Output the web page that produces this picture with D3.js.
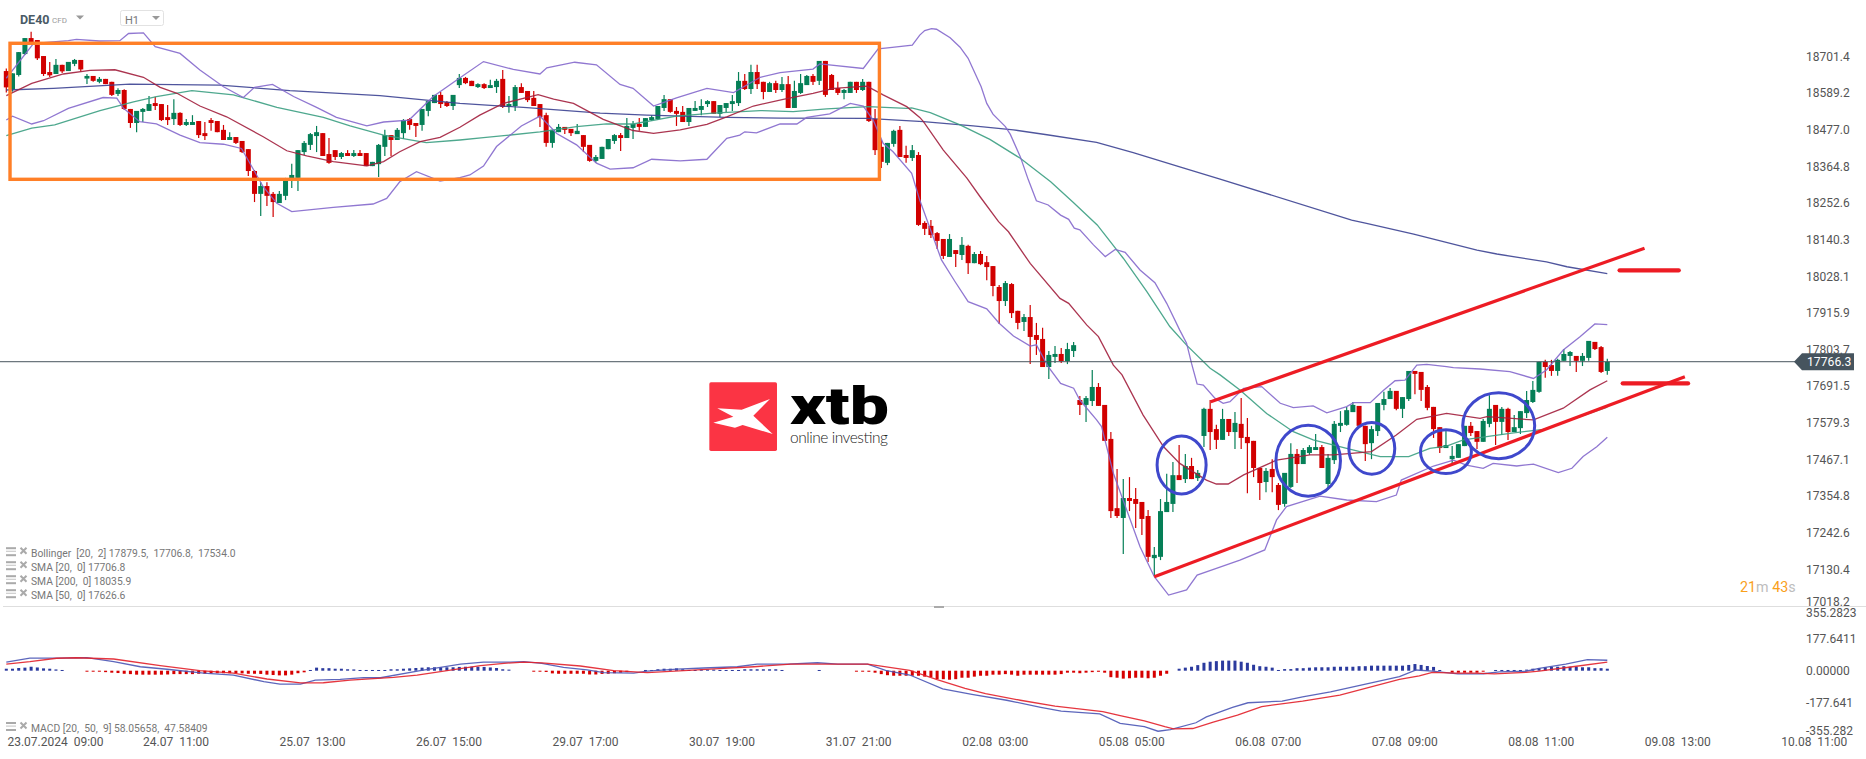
<!DOCTYPE html>
<html><head><meta charset="utf-8">
<style>html,body{margin:0;padding:0;background:#fff}svg{display:block}text{font-family:Roboto,sans-serif;white-space:pre}</style>
<script src="https://cdn.jsdelivr.net/npm/d3@7"></script></head><body><div id="chart"></div>
<script>
const open=[18656,18600,18644,18708,18757,18751,18702,18653,18647,18675,18656,18678,18690,18633,18641,18623,18632,18623,18586,18598,18540,18497,18531,18534,18558,18555,18515,18509,18528,18491,18491,18503,18466,18506,18503,18476,18445,18454,18442,18417,18350,18280,18304,18280,18252,18274,18323,18329,18408,18430,18457,18466,18402,18414,18393,18405,18396,18405,18405,18365,18371,18424,18460,18445,18466,18509,18497,18491,18534,18558,18583,18561,18549,18613,18635,18626,18607,18616,18604,18607,18632,18546,18549,18607,18595,18574,18555,18521,18436,18469,18485,18479,18463,18460,18430,18381,18387,18417,18442,18460,18451,18482,18494,18485,18506,18509,18543,18570,18534,18531,18500,18534,18537,18555,18564,18525,18543,18555,18558,18626,18601,18653,18623,18592,18619,18598,18616,18543,18589,18613,18641,18626,18687,18644,18604,18589,18589,18623,18598,18623,18509,18424,18375,18433,18476,18399,18390,18399,18191,18182,18160,18142,18087,18108,18093,18121,18068,18096,18071,18059,17995,17952,18004,17922,17888,17903,17848,17836,17750,17781,17790,17768,17799,17649,17634,17646,17689,17634,17530,17318,17288,17349,17346,17337,17294,17165,17169,17306,17331,17419,17407,17447,17410,17539,17622,17560,17527,17591,17551,17576,17536,17524,17441,17398,17438,17389,17331,17383,17484,17453,17487,17496,17505,17392,17465,17570,17573,17612,17631,17570,17517,17554,17634,17652,17677,17622,17652,17738,17735,17689,17628,17566,17502,17468,17472,17508,17570,17554,17521,17576,17634,17582,17622,17551,17563,17609,17643,17674,17766,17756,17738,17769,17784,17784,17769,17778,17827,17811,17738];
const close=[18606,18649,18714,18757,18744,18695,18647,18643,18675,18655,18684,18690,18661,18641,18626,18632,18616,18583,18598,18540,18497,18534,18540,18555,18549,18506,18506,18528,18491,18500,18500,18460,18457,18497,18469,18445,18454,18436,18408,18350,18280,18304,18274,18255,18280,18323,18338,18414,18436,18463,18469,18396,18375,18393,18405,18396,18405,18396,18365,18378,18430,18460,18445,18476,18506,18491,18488,18540,18564,18583,18555,18549,18583,18635,18619,18610,18616,18604,18613,18626,18546,18555,18607,18589,18567,18549,18515,18436,18476,18485,18476,18466,18473,18424,18381,18393,18424,18448,18460,18451,18488,18494,18485,18512,18515,18549,18570,18531,18525,18500,18543,18543,18549,18564,18525,18552,18558,18564,18626,18601,18653,18616,18592,18619,18598,18616,18543,18595,18619,18641,18623,18687,18583,18598,18589,18598,18623,18598,18623,18503,18414,18378,18436,18473,18393,18390,18414,18185,18173,18154,18136,18090,18142,18096,18124,18068,18096,18065,18056,17998,17952,18007,17915,17885,17903,17842,17833,17750,17787,17790,17768,17805,17817,17634,17655,17689,17631,17524,17309,17294,17349,17340,17331,17285,17169,17175,17309,17337,17419,17404,17447,17407,17426,17622,17551,17527,17591,17551,17579,17533,17517,17441,17395,17432,17413,17328,17426,17484,17453,17496,17505,17505,17441,17472,17576,17579,17618,17634,17570,17514,17560,17640,17652,17677,17622,17658,17738,17729,17680,17625,17560,17502,17511,17478,17514,17570,17548,17521,17585,17622,17582,17622,17551,17566,17615,17649,17680,17766,17750,17738,17772,17790,17796,17769,17784,17830,17805,17735,17766];
const high=[18664,18649,18714,18757,18776,18751,18702,18684,18693,18675,18684,18693,18690,18647,18641,18638,18632,18623,18603,18600,18540,18534,18543,18580,18577,18555,18552,18570,18530,18509,18521,18503,18500,18512,18503,18491,18469,18454,18442,18417,18353,18316,18316,18286,18289,18329,18372,18414,18442,18466,18488,18466,18451,18414,18408,18414,18414,18414,18405,18378,18433,18476,18460,18482,18509,18512,18497,18540,18564,18583,18592,18564,18583,18647,18638,18626,18619,18619,18629,18632,18659,18580,18613,18619,18595,18595,18555,18528,18476,18494,18485,18479,18494,18460,18430,18399,18424,18448,18463,18466,18512,18503,18512,18512,18521,18549,18583,18570,18546,18549,18543,18564,18570,18567,18564,18552,18558,18583,18653,18647,18675,18675,18623,18623,18626,18638,18641,18626,18647,18644,18647,18687,18687,18647,18623,18601,18623,18623,18632,18623,18540,18445,18436,18476,18488,18427,18430,18408,18196,18200,18163,18142,18157,18108,18148,18124,18102,18105,18090,18059,18001,18013,18007,17922,17912,17940,17885,17870,17799,17814,17808,17824,17827,17661,17661,17741,17701,17634,17551,17438,17407,17413,17380,17337,17312,17199,17346,17423,17459,17511,17484,17472,17435,17625,17649,17573,17622,17591,17612,17655,17594,17524,17441,17441,17468,17395,17426,17517,17499,17502,17511,17545,17511,17484,17585,17615,17628,17643,17631,17570,17570,17640,17674,17686,17677,17658,17738,17738,17735,17695,17628,17566,17557,17508,17514,17570,17582,17554,17591,17664,17634,17628,17625,17603,17615,17677,17707,17766,17772,17772,17775,17805,17799,17784,17793,17830,17827,17814,17775];
const low=[18590,18593,18639,18705,18744,18690,18641,18638,18647,18650,18656,18671,18655,18616,18623,18619,18616,18580,18580,18537,18482,18469,18500,18534,18537,18503,18491,18491,18488,18488,18491,18451,18445,18473,18469,18445,18445,18433,18405,18335,18255,18212,18243,18209,18252,18261,18298,18289,18399,18414,18408,18396,18372,18384,18387,18396,18393,18396,18365,18365,18332,18396,18396,18445,18448,18476,18454,18473,18518,18558,18543,18546,18537,18604,18616,18610,18604,18601,18604,18589,18543,18528,18534,18589,18561,18549,18485,18424,18421,18469,18463,18457,18463,18408,18378,18375,18387,18417,18433,18411,18451,18448,18473,18485,18503,18506,18534,18528,18488,18500,18488,18534,18521,18546,18525,18515,18531,18534,18549,18598,18586,18601,18570,18592,18589,18592,18543,18543,18586,18613,18613,18613,18577,18598,18583,18570,18589,18589,18595,18500,18399,18359,18368,18424,18393,18375,18381,18182,18154,18145,18111,18081,18087,18056,18078,18035,18068,18062,18016,17967,17882,17937,17900,17866,17860,17759,17787,17750,17713,17762,17762,17759,17781,17603,17582,17631,17631,17524,17288,17288,17178,17309,17257,17236,17153,17110,17159,17306,17306,17404,17395,17407,17401,17505,17496,17499,17527,17539,17499,17499,17364,17413,17343,17367,17367,17312,17322,17380,17395,17453,17481,17496,17441,17374,17453,17551,17570,17612,17570,17462,17468,17539,17618,17652,17618,17594,17646,17667,17646,17618,17533,17487,17502,17456,17472,17508,17539,17499,17521,17566,17511,17542,17527,17551,17545,17594,17640,17671,17717,17723,17723,17769,17753,17735,17753,17769,17802,17732,17726];

const bbUpperIdx=[0,4.4,6,10,11.3,15,18.3,19.7,22.1,24,28,31.2,35,38.2,40,42.9,46.3,50,53.2,58.1,60.8,64.9,68.8,73,76.9,81.7,86,87.1,91.6,95.1,98.9,101,104.3,108,112.9,117.2,121.5,124.7,130,131.1,138.1,140.5,142.4,146,147.2,148,149.1,149.9,152.1,153.7,155,157.1,158,159,161,161.8,163.4,164.7,166,167.9,169.9,171.2,172.1,173,175.2,177.1,178.7,180.3,182.7,185.1,187,189.1,190.2,191,191.9,192.9,194.8,196.1,197.2,199.4,202.3,205.3,207.4,210.6,212.8,216,217.1,219.8,221.9,223.8,225.4,227.3,228.9,232.1,233.2,237.5,242.3,246.1,248.2,250.9,253.6,256,258];
const bbUpper=[18634,18741,18743,18749,18753,18748,18749,18771,18773,18731,18710,18659,18608,18575,18606,18615,18578,18545,18514,18488,18500,18506,18578,18634,18685,18661,18647,18666,18683,18675,18615,18603,18549,18574,18603,18590,18637,18651,18662,18678,18664,18724,18728,18735,18766,18780,18786,18784,18758,18729,18695,18608,18557,18524,18486,18462,18394,18323,18259,18246,18215,18202,18175,18170,18124,18088,18110,18101,18047,18008,17945,17863,17823,17761,17698,17695,17654,17639,17644,17685,17690,17639,17626,17631,17610,17629,17641,17641,17678,17708,17710,17756,17758,17751,17748,17744,17736,17715,17741,17802,17843,17882,17880];
const bbLowerIdx=[0,1,4.1,6,10,15.6,17.8,18.9,21.5,24.2,28,31.2,35,37.9,41.4,43.6,46,52.7,59.1,61.3,63.4,66.1,69.9,73.1,74.7,76.9,79,83,86,88.7,91.9,95.1,97.3,101,104,108.6,112.9,116.1,118.2,119,120.9,124.7,127.4,129,132.7,136,138.1,139.7,141.3,142.9,145.9,147.2,150.7,152.9,155,158,160,162.3,165,166,167.9,169.9,172,173,175.7,176.5,178.4,182.7,185,187.3,190.2,191.9,195,198.8,202.8,204.7,206.3,211.7,216,220.8,224,224.8,230,233.2,235.3,238,239.6,243.4,246.1,250.1,252.3,254.1,256.3,258];
const bbLower=[18506,18518,18494,18504,18542,18575,18573,18542,18501,18494,18460,18437,18432,18419,18302,18251,18226,18239,18249,18266,18317,18348,18319,18330,18338,18365,18425,18488,18518,18465,18430,18374,18356,18360,18386,18381,18386,18450,18460,18470,18467,18494,18494,18514,18525,18557,18549,18506,18435,18409,18343,18261,18078,18011,17950,17928,17884,17845,17814,17818,17751,17700,17685,17649,17588,17568,17425,17200,17108,17052,17068,17113,17134,17159,17190,17282,17323,17355,17343,17338,17358,17404,17447,17465,17450,17440,17455,17447,17453,17427,17440,17476,17506,17535];
const sma20Idx=[0,4.1,9.2,13.5,17.5,22.1,24.8,27.5,31.2,35.5,41.4,45.2,48.4,52.7,58.1,60.8,63.4,66.7,69.9,73.1,76.3,80.1,85.7,88.2,91.4,96.2,101,104.3,108.6,112.9,116.1,120.4,125.2,130,133.3,138.7,141.3,145.1,147.2,147.8,151,154.8,156.9,159.9,161.5,165,169.8,171.2,174.1,176,178.4,179.8,183.2,186.5,189.1,193.4,195,196.9,199.4,204.7,210.1,213.9,220,224,227.3,232.1,237.5,238.6,246.1,250.9,255.2,258];
const sma20=[18581,18618,18647,18658,18660,18637,18606,18588,18549,18516,18455,18412,18396,18379,18366,18379,18409,18440,18453,18484,18521,18557,18584,18570,18557,18508,18474,18465,18476,18493,18516,18549,18569,18588,18603,18610,18583,18547,18514,18501,18414,18328,18272,18195,18164,18067,17960,17945,17879,17843,17756,17726,17603,17506,17455,17404,17392,17392,17420,17465,17481,17481,17491,17542,17590,17608,17593,17598,17588,17624,17680,17708];
const sma50Idx=[0,4.1,7.8,15.1,20.5,24.2,29.9,36.6,43.6,51.1,55.4,60.8,65.1,67.7,73.1,76.9,80.6,86,91.9,96.7,101,108,113.9,121.5,126.8,132.2,138.9,145.1,145.9,148.9,153.7,158.5,163.4,168.3,172,175.8,180,183.8,187.5,190.2,194,195.6,198.8,203.1,207.4,210.6,216,221.4,226,229.4,232.1,234.8,242.3,247.7,258];
const sma50=[18458,18481,18491,18535,18562,18578,18596,18583,18545,18514,18488,18460,18445,18437,18445,18452,18459,18470,18486,18494,18494,18518,18527,18535,18532,18540,18547,18542,18543,18529,18491,18447,18389,18317,18253,18185,18083,17981,17874,17817,17746,17726,17680,17608,17552,17527,17501,17476,17476,17501,17508,17527,17547,17559,17627];
const sma200Idx=[0,7.6,19.9,34.4,45.7,60.2,73.1,83.9,95.7,103.2,116.1,124.7,138.7,140.8,147.8,155.8,162.3,167.7,175.7,181.6,189.1,195.6,216.8,219.2,226.8,237,240.2,248.2,251.5,258];
const sma200=[18598,18603,18616,18613,18596,18581,18557,18544,18527,18521,18514,18512,18511,18509,18501,18488,18476,18461,18438,18406,18363,18325,18200,18190,18157,18108,18096,18072,18057,18036];

const macdHist=[11,11,15,17,22,18,13,11,7,4,0,0,0,-4,-4,-4,-8,-11,-13,-17,-19,-22,-22,-22,-22,-22,-21,-19,-19,-19,-19,-17,-17,-15,-14,-14,-14,-14,-15,-17,-17,-18,-22,-24,-26,-26,-22,-14,-9,4,17,14,14,11,11,8,7,4,4,4,4,4,8,8,11,13,15,17,19,19,19,19,19,21,22,22,22,21,18,15,8,6,0,0,0,-4,-4,-7,-15,-17,-17,-17,-17,-17,-21,-21,-18,-17,-14,-11,-8,0,0,4,4,8,11,11,13,8,4,4,6,6,6,4,4,4,4,8,8,8,8,8,8,4,0,0,0,0,0,4,0,0,0,0,0,-4,-4,-6,-11,-19,-25,-28,-28,-28,-28,-28,-33,-36,-47,-47,-50,-47,-39,-39,-33,-28,-28,-22,-22,-19,-22,-28,-22,-22,-22,-22,-22,-22,-19,-11,-11,-14,-11,-8,-6,-11,-36,-39,-44,-42,-39,-39,-42,-39,-28,-17,0,11,17,22,31,44,50,53,56,56,56,50,44,33,25,22,17,4,9,9,14,14,17,19,19,19,22,22,22,22,25,25,28,28,28,28,28,28,32,37,32,26,21,4,0,-11,-11,-11,-11,-11,-4,0,4,4,4,4,4,6,11,14,19,22,22,25,22,22,19,19,14,14,11];
const macdIdx=[0,3.8,8.1,13,17.3,21.6,25.9,31.8,36.6,41.5,44.1,47.4,49.8,53.8,57.6,60.3,66.7,73.2,76.9,81.2,83.4,86.3,89.8,93.6,96.3,101.1,103.3,108.1,112.4,117.8,121,125.9,130.7,134,138.8,141.7,145.6,150.9,155.6,161.2,166.7,170,176.2,179.5,183.4,185.6,187.6,191.7,193.4,197.6,200.1,205.6,208.9,213.4,224.5,227.2,229.8,233.9,238,240.6,244.9,247,251.3,254.8,258];
const macdLine=[47,70,70,72,50,22,8,-14,-24,-61,-74,-74,-52,-48,-39,-39,0,37,48,48,50,41,19,4,-11,-13,-2,9,15,22,37,37,44,37,37,2,-24,-101,-131,-164,-203,-224,-240,-292,-311,-336,-327,-289,-256,-203,-178,-169,-145,-117,-33,4,-2,-18,-17,-6,-3,13,37,61,58];
const signalIdx=[0,3.8,8.1,11.3,17.3,24.8,31.2,36.6,42,47.4,51.1,55.4,62.4,66.2,76.4,80.2,83.4,86.3,92.5,97.9,103.3,109.2,115.6,120.5,126.4,134,138.8,145.6,150,154.5,157.8,163.4,169,176.7,179.5,183.4,186.7,188.1,191.2,194.5,198.4,202.3,208.9,214.9,224.5,227.7,229.8,233.5,236.8,239.8,244.9,247,252.4,258];
const signalLine=[37,50,69,72,65,28,0,-14,-46,-68,-67,-52,-37,-24,28,41,48,44,26,0,-11,0,13,22,37,37,37,2,-50,-98,-127,-164,-197,-227,-250,-279,-311,-323,-321,-285,-246,-199,-169,-135,-48,-29,-9,-14,-14,-18,-9,-2,22,48];

const priceTicks=[18701.4,18589.2,18477.0,18364.8,18252.6,18140.3,18028.1,17915.9,17803.7,17691.5,17579.3,17467.1,17354.8,17242.6,17130.4,17018.2];
const macdTicks=[355.2823,177.6411,0,-177.641,-355.282];
const macdTickLabels=["355.2823","177.6411","0.00000","-177.641","-355.282"];
const timeTickIdx=[5.27,27.27,49.27,71.27,93.27,115.27,137.27,159.27,181.27,203.27,225.27,247.27,269.27,291.27];
const timeTickLabels=["23.07.2024  09:00","24.07  11:00","25.07  13:00","26.07  15:00","29.07  17:00","30.07  19:00","31.07  21:00","02.08  03:00","05.08  05:00","06.08  07:00","07.08  09:00","08.08  11:00","09.08  13:00","10.08  11:00"];
const lastPrice=17766.3;
const legendLines=["Bollinger  [20,  2] 17879.5,  17706.8,  17534.0","SMA [20,  0] 17706.8","SMA [200,  0] 18035.9","SMA [50,  0] 17626.6"];
const macdLegend="MACD [20,  50,  9] 58.05658,  47.58409";
// annotations in chart units: [bar index, price]
const boxCorners=[[0.6,18741],[140.7,18324.6]];
const trendLines=[[[185,17108],[270.5,17720.6]],[[194.1,17644],[264,18113.4]]];
const levelLines=[[[260,18046],[269.5,18046]],[[260.5,17700],[271,17700]]];
const circles=[[189.4,17450,3.95,88.8],[209.8,17463.4,5.2,108.7],[220.05,17501,3.7,79],[232,17491,4.1,67],[240.5,17570.6,5.8,101]];

const W=1866,H=759;
const svg=d3.select("#chart").append("svg").attr("width",W).attr("height",H).attr("viewBox",[0,0,W,H]);
const x=d3.scaleLinear().domain([0,258]).range([6.3,1607.3]);
const y=d3.scaleLinear().domain([17018.2,18873.5]).range([606.1,0]);
const yM=d3.scaleLinear().domain([-355.282,355.2823]).range([734.7,606.7]);

// header
svg.append("text").attr("x",20).attr("y",23.5).attr("font-size",12.5).attr("font-weight",700).attr("fill","#4a5a66").text("DE40");
svg.append("text").attr("x",52).attr("y",22.5).attr("font-size",8).attr("fill","#9a9a9a").text("CFD");
svg.append("path").attr("d","M76,15.5h8l-4,4z").attr("fill","#999");
svg.append("rect").attr("x",120.5).attr("y",10.5).attr("width",43).attr("height",15).attr("rx",2).attr("fill","#fff").attr("stroke","#e2e2e2");
svg.append("text").attr("x",125).attr("y",23.5).attr("font-size",11).attr("fill","#777").text("H1");
svg.append("path").attr("d","M152,16h8l-4,4z").attr("fill","#999");

// logo
const logo=svg.append("g").attr("transform","translate(700,375) scale(0.3333)");
logo.append("rect").attr("x",28).attr("y",22).attr("width",203).attr("height",206).attr("rx",5).attr("fill","#fb3444");
logo.append("path").attr("d","M52,100L125,104L210,72L160,122L218,177L128,150L105,158L40,143L100,125Z").attr("fill","#fff");
svg.append("text").attr("x",790).attr("y",423.5).attr("font-size",51).attr("font-weight",900).attr("fill","#000").attr("textLength",99).attr("lengthAdjust","spacingAndGlyphs").text("xtb");
svg.append("text").attr("x",790).attr("y",443).style("font-family","Lato").style("font-weight",300).attr("font-size",15.5).attr("fill","#222").attr("textLength",98).text("online investing");

// candles
const candles=open.map((o,i)=>({i,o,c:close[i],h:high[i],l:low[i]}));
const colr=d=>d.c>=d.o?"#057f57":"#d10000";
const gC=svg.append("g");
gC.selectAll("line").data(candles).join("line").attr("x1",d=>x(d.i)).attr("x2",d=>x(d.i)).attr("y1",d=>y(d.h)).attr("y2",d=>y(d.l)).attr("stroke",colr).attr("stroke-width",1.2);
gC.selectAll("rect").data(candles).join("rect").attr("x",d=>x(d.i)-2.5).attr("width",5).attr("y",d=>y(Math.max(d.o,d.c))).attr("height",d=>Math.max(1.5,Math.abs(y(d.o)-y(d.c)))).attr("fill",colr);

// overlays
const line=d3.line().x(d=>x(d[0])).y(d=>y(d[1]));
const overlay=(ix,v,col)=>svg.append("path").attr("d",line(d3.zip(ix,v))).attr("fill","none").attr("stroke",col).attr("stroke-width",1.3).attr("stroke-opacity",.9);
overlay(sma200Idx,sma200,"#3c4392");
overlay(sma50Idx,sma50,"#3b9f82");
overlay(sma20Idx,sma20,"#a21f3d");
overlay(bbUpperIdx,bbUpper,"#8468cc");
overlay(bbLowerIdx,bbLower,"#8468cc");

// last price
svg.append("line").attr("x1",0).attr("x2",1800).attr("y1",y(lastPrice)).attr("y2",y(lastPrice)).attr("stroke","#48555e").attr("stroke-width",1);

// annotations
svg.append("rect").attr("x",x(boxCorners[0][0])).attr("y",y(boxCorners[0][1])).attr("width",x(boxCorners[1][0])-x(boxCorners[0][0])).attr("height",y(boxCorners[1][1])-y(boxCorners[0][1])).attr("fill","none").attr("stroke","#ff7f27").attr("stroke-width",3.4);
svg.append("g").selectAll("line").data(trendLines).join("line").attr("x1",d=>x(d[0][0])).attr("y1",d=>y(d[0][1])).attr("x2",d=>x(d[1][0])).attr("y2",d=>y(d[1][1])).attr("stroke","#ed1c24").attr("stroke-width",3.2);
svg.append("g").selectAll("line").data(levelLines).join("line").attr("x1",d=>x(d[0][0])).attr("y1",d=>y(d[0][1])).attr("x2",d=>x(d[1][0])).attr("y2",d=>y(d[1][1])).attr("stroke","#ed1c24").attr("stroke-width",4.4).attr("stroke-linecap","round");
svg.append("g").selectAll("ellipse").data(circles).join("ellipse").attr("cx",d=>x(d[0])).attr("cy",d=>y(d[1])).attr("rx",d=>x(d[2])-x(0)).attr("ry",d=>y(d[1]-d[3])-y(d[1])).attr("fill","none").attr("stroke","#3f48cc").attr("stroke-width",3);

// price axis
const axP=svg.append("g").attr("transform","translate(1800,0)").call(d3.axisRight(y).tickValues(priceTicks).tickSize(0).tickPadding(6).tickFormat(d3.format(".1f")));
axP.select(".domain").remove();
axP.selectAll("text").attr("font-size",12).attr("fill","#555").style("font-family","Roboto");
axP.selectAll(".tick").filter(d=>d===17018.2).select("text").attr("dy","-0.03em");

// last price tag
svg.append("path").attr("d",`M1794,${y(lastPrice)}l8,-8.5h52v17h-52z`).attr("fill","#46545e");
svg.append("text").attr("x",1807).attr("y",y(lastPrice)+4.4).attr("font-size",12.2).attr("fill","#fff").text(lastPrice.toFixed(1));

// timer
const timer=svg.append("text").attr("x",1740).attr("y",591.5).attr("font-size",14.3);
timer.append("tspan").attr("fill","#f9a01b").text("21");
timer.append("tspan").attr("fill","#bdbdbd").text("m ");
timer.append("tspan").attr("fill","#f9a01b").text("43");
timer.append("tspan").attr("fill","#bdbdbd").text("s");

// dividers
svg.append("line").attr("x1",3).attr("x2",W).attr("y1",606.5).attr("y2",606.5).attr("stroke","#dedede");
svg.append("rect").attr("x",934).attr("y",606).attr("width",10).attr("height",2).attr("fill","#aaa");

// legends
const legendIcon=(g,yy)=>{
  [0,3.5,7].forEach(d=>g.append("rect").attr("x",6).attr("y",yy+d).attr("width",10).attr("height",d==3.5?1.2:2).attr("fill",d==3.5?"#ccc":"#aaa"));
  g.append("path").attr("d",`M20.5,${yy+.5}l6,6M26.5,${yy+.5}l-6,6`).attr("stroke","#aaa").attr("stroke-width",2);
};
const gL=svg.append("g");
legendLines.forEach((t,i)=>{
  const by=556.7+i*14;
  legendIcon(gL,by-9.5);
  gL.append("text").attr("x",31).attr("y",by).attr("font-size",10.3).attr("fill","#777").text(t);
});
legendIcon(gL,722);
gL.append("text").attr("x",31).attr("y",731.5).attr("font-size",10.3).attr("fill","#777").text(macdLegend);

// MACD
const gH=svg.append("g");
gH.selectAll("rect").data(macdHist.map((v,i)=>({v,i})).filter(d=>d.v!==0)).join("rect")
  .attr("x",d=>x(d.i)-1.5).attr("width",3)
  .attr("y",d=>yM(Math.max(d.v,0))).attr("height",d=>Math.max(1,Math.abs(yM(d.v)-yM(0))))
  .attr("fill",d=>d.v>0?"#2b3a9e":"#d60000");
const lineM=d3.line().x(d=>x(d[0])).y(d=>yM(d[1]));
svg.append("path").attr("d",lineM(d3.zip(macdIdx,macdLine))).attr("fill","none").attr("stroke","#4a55b5").attr("stroke-width",1.3).attr("stroke-opacity",.9);
svg.append("path").attr("d",lineM(d3.zip(signalIdx,signalLine))).attr("fill","none").attr("stroke","#e2202a").attr("stroke-width",1.3).attr("stroke-opacity",.9);

const axM=svg.append("g").attr("transform","translate(1800,0)").call(d3.axisRight(yM).tickValues(macdTicks).tickSize(0).tickPadding(6).tickFormat((d,i)=>macdTickLabels[i]));
axM.select(".domain").remove();
axM.selectAll("text").attr("font-size",12).attr("fill","#555").style("font-family","Roboto");
axM.selectAll(".tick").filter(d=>d===355.2823).select("text").attr("dy","0.85em");
axM.selectAll(".tick").filter(d=>d===-355.282).select("text").attr("dy","-0.03em");

// time axis
const axT=svg.append("g").attr("transform","translate(0,735)").call(d3.axisBottom(x).tickValues(timeTickIdx).tickSize(0).tickPadding(2).tickFormat((d,i)=>timeTickLabels[i]));
axT.select(".domain").remove();
axT.selectAll("text").attr("font-size",12).attr("fill","#555").style("font-family","Roboto");
axT.selectAll("text").filter((d,i)=>i===0).attr("dx","16px");
</script></body></html>
